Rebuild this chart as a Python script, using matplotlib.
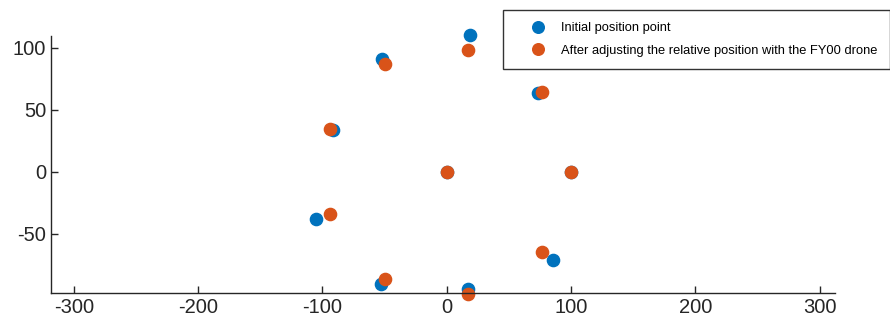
import matplotlib
matplotlib.use("Agg")
import matplotlib.pyplot as plt

plt.rcParams["axes.unicode_minus"] = False

# initial positions (blue)
init_x = [0, 100, 73.7, 18.7, -52.3, -91.7, -105.4, -53.1, 17.4, 85.8]
init_y = [0, 0, 63.1, 110.2, 91.2, 33.5, -38.1, -90.6, -94.6, -71.0]

# positions after adjusting relative to FY00 (orange)
adj_x = [0, 100, 76.6, 17.4, -50.0, -94.0, -94.0, -50.0, 17.4, 76.6]
adj_y = [0, 0, 64.3, 98.5, 86.6, 34.2, -34.2, -86.6, -98.5, -64.3]

labels = ["Initial position point",
          "After adjusting the relative position with the FY00 drone"]

blue = "#0072BD"
orange = "#D95319"
axcol = "#262626"

fig = plt.figure(figsize=(8.9, 3.24), dpi=100)
ax = fig.add_axes([51/890, 31/324, 784/890, 257/324])

ax.plot(init_x, init_y, "o", color=blue, markersize=8.8, label=labels[0], clip_on=False)
ax.plot(adj_x, adj_y, "o", color=orange, markersize=8.8, label=labels[1], clip_on=False)

ax.set_xlim(-318.3, 312.4)
ax.set_ylim(-97.6, 109.4)
ax.set_xticks([-300, -200, -100, 0, 100, 200, 300])
ax.set_yticks([-50, 0, 50, 100])

for s in ["top", "right"]:
    ax.spines[s].set_visible(False)
for s in ["left", "bottom"]:
    ax.spines[s].set_color(axcol)
    ax.spines[s].set_linewidth(1.0)

ax.tick_params(direction="in", length=5, width=1, color=axcol,
               labelcolor=axcol, labelsize=14.5)
for lab in ax.get_xticklabels() + ax.get_yticklabels():
    lab.set_family(["Liberation Sans", "DejaVu Sans"])

leg = fig.legend(loc="upper left", bbox_to_anchor=(503/890, 1 - 10/324),
                 prop={"family": ["Liberation Sans", "DejaVu Sans"], "size": 9.3},
                 frameon=True, fancybox=False, edgecolor="#333333",
                 handletextpad=0.05, labelspacing=0.8, borderpad=0.95,
                 borderaxespad=0, handlelength=3.5, markerscale=0.95)
leg.get_frame().set_linewidth(1.0)
leg.get_frame().set_alpha(1)

fig.savefig("out.png", dpi=100)
